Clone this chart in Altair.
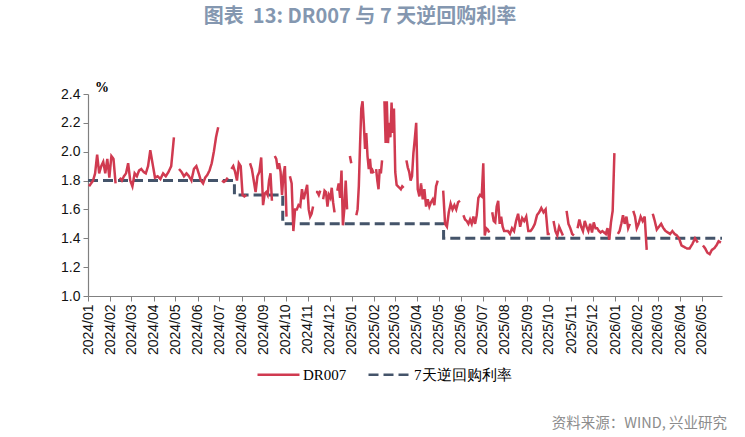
import calendar
import pandas as pd
import altair as alt

# ---------------- data ----------------
series_names = ["DR007", "7天逆回购利率"]

# DR007 (%), read month by month; None = gap in the source line
dr007_2024 = [
    [1.76, 1.78, 1.80, 1.85, 1.98, 1.85, 1.90, 1.93, 1.85, 1.95, 1.82],
    [1.97, 1.95, 1.78, None, 1.82, 1.80, 1.83, 1.85, 1.92, 1.80],
    [1.76, 1.85, 1.83, 1.87, 1.88, 1.86, 1.85, 1.90, 2.01, 1.92],
    [1.82, 1.83, 1.81, 1.85, 1.83, 1.86, 1.90, 2.10],
    [None, 1.88, 1.86, 1.83, 1.85, 1.83, 1.80, 1.88, 1.90],
    [1.85, 1.80, 1.78, 1.82, 1.84, 1.87, 1.92, 2.00, 2.10, 2.17],
    [None, 1.80, 1.79, 1.80, 1.82, None, 1.88, 1.90, 1.86, 1.80, 1.92, 1.90],
    [1.70, 1.69, 1.70, None, 1.92, 1.88, 1.80, 1.72, 1.83, 1.86, 1.96, 1.63],
    [1.71, 1.72, 1.70, 1.80, 1.85, 1.66, None, 1.97, 1.95, 1.88, 1.92, 1.86, 1.70, 1.84, 1.90],
    [1.55, None, 1.83, 1.78, 1.45, 1.60, 1.60, 1.63, 1.62, 1.74, 1.67, 1.72, 1.77],
    [1.60, 1.55, 1.57, 1.62, None, 1.72, 1.72, 1.70, 1.73, None, 1.67, 1.73, 1.72, 1.62, 1.70],
    [1.68, 1.75, 1.65, 1.58, None, 1.73, 1.78, 1.68, 1.87, 1.49, 1.60, 1.80, 1.60, None, 1.97, 1.92],
]
dr007_2025 = [
    [None, 1.69, None, 1.56, 1.60, 1.76, 2.05, 2.30, 2.35, 2.20, 2.02, 2.13, 1.97, 1.88, 1.95, 1.85, 1.87, 1.85],
    [None, 1.88, 1.80, 1.74, 1.88, 1.85, 1.94, None, 2.35, 2.06, 2.35, 2.06, 2.20, 2.10, 2.34, 2.13, 2.30],
    [1.86, 1.77, 1.76, 1.75, 1.74, 1.76, 1.75, None, 1.94, 1.89, 1.86, 1.80, 1.83, 1.99, 2.09, 2.20],
    [1.74, 1.69, 1.78, 1.67, 1.74, 1.62, 1.67, 1.62, 1.65, 1.67, 1.63, 1.76, 1.80],
    [None, None, 1.73, 1.50, 1.48, 1.58, 1.64, 1.60, 1.63, 1.60, 1.65, 1.66],
    [None, 1.56, 1.53, 1.52, 1.50, 1.53, 1.50, 1.55, 1.50, 1.56, 1.68, 1.70, 1.69],
    [1.92, 1.42, 1.47, 1.46, 1.44, None, 1.58, 1.52, 1.51, 1.62, 1.66, 1.50, 1.55, 1.48, 1.45],
    [1.45, 1.45, 1.43, 1.47, 1.45, 1.52, 1.57, 1.48, 1.54, 1.52, 1.55],
    [1.45, 1.45, 1.47, 1.50, 1.56, 1.58, 1.61, 1.58, 1.60, 1.43],
    [1.43, None, 1.52, 1.45, 1.42, 1.48, 1.45, 1.42, None, 1.59, 1.50, 1.47],
    [1.43, 1.42, None, 1.47, 1.53, 1.48, 1.45, 1.52, 1.48, 1.45, 1.50, 1.44],
    [1.51, 1.47, 1.47, 1.45, 1.44, 1.45, 1.44, 1.43, 1.47, 1.39, 1.51, 1.59, 1.99],
]
dr007_2026 = [
    [None, 1.43, 1.45, 1.50, 1.56, 1.50, 1.55, 1.47, 1.50, None, 1.59, 1.55, 1.47],
    [1.50, 1.55, 1.52, 1.55, 1.32, None, None, 1.57, 1.52, 1.46],
    [1.48, 1.50, 1.47, 1.45, 1.44, 1.43, 1.45, 1.43, 1.42, 1.40],
    [1.35, 1.34, 1.33, 1.33, 1.36, 1.40, 1.37, None],
    [1.35, 1.33, 1.30, 1.29, 1.32, 1.33, 1.35, 1.38, 1.37],
]

# 7-day reverse repo rate (%), step changes
policy_dates = ["2024-01-01", "2024-07-22", "2024-09-27", "2025-05-08", "2026-05-29"]
policy_rate = [1.8, 1.7, 1.5, 1.4, 1.4]

y_ticks = [1.0, 1.2, 1.4, 1.6, 1.8, 2.0, 2.2, 2.4]
domain_start = "2024-01-01"
domain_end = "2026-05-29"

title_text = "图表\u00a0\u00a013: DR007 与 7 天逆回购利率"
unit_text = "%"
source_text = "资料来源：WIND, 兴业研究"

# ---------------- table building ----------------
end_ts = pd.Timestamp(domain_end)
rows = []
seg = 0
for year, lists in ((2024, dr007_2024), (2025, dr007_2025), (2026, dr007_2026)):
    for mi, vals in enumerate(lists):
        start = pd.Timestamp(year, mi + 1, 1)
        ndays = calendar.monthrange(year, mi + 1)[1]
        span = min(ndays, (end_ts - start).days)
        n = len(vals)
        for i, v in enumerate(vals):
            if v is None:
                seg += 1
                continue
            d = start + pd.Timedelta(hours=24 * (i + 0.5) * span / n)
            rows.append({"date": d.strftime("%Y-%m-%dT%H:%M:%S"), "value": v,
                         "seg": seg, "series": series_names[0]})
dr_df = pd.DataFrame(rows)
pol_df = pd.DataFrame({"date": [d + "T00:00:00" for d in policy_dates],
                       "value": policy_rate, "series": series_names[1]})

RED = "#d03a50"
NAVY = "#44546a"
AXIS = "#808080"

x_enc = alt.X(
    "date:T",
    scale=alt.Scale(domain=[domain_start + "T00:00:00", domain_end + "T00:00:00"]),
    axis=alt.Axis(format="%Y/%m", tickCount=alt.TimeIntervalStep(interval="month", step=1),
                  labelAngle=270, labelFontSize=14, labelFont="Liberation Sans",
                  labelColor="#111", tickSize=5, tickColor=AXIS, domainColor=AXIS,
                  domainWidth=1.2, labelPadding=3, grid=False, title=None,
                  labelOverlap=False, labelFlush=False),
)
y_enc = alt.Y(
    "value:Q",
    scale=alt.Scale(domain=[1.0, 2.4], nice=False, zero=False),
    axis=alt.Axis(values=y_ticks, format=".1f", title=None, grid=False, tickSize=5,
                  tickColor=AXIS, domainColor=AXIS, domainWidth=1.2, labelPadding=3,
                  labelFontSize=14, labelFont="Liberation Sans", labelColor="#111"),
)
legend = alt.Legend(title=None, orient="none", legendX=168, legendY=258,
                    direction="horizontal", symbolType="stroke", symbolSize=1764,
                    symbolStrokeWidth=2.6, labelFont="Liberation Serif",
                    labelFontSize=15, labelColor="#000", labelOffset=2, columnPadding=16)
color_enc = alt.Color("series:N", scale=alt.Scale(domain=series_names, range=[RED, NAVY]),
                      legend=legend)
dash_enc = alt.StrokeDash("series:N", scale=alt.Scale(domain=series_names, range=[[1, 0], [10, 5]]),
                          legend=legend)

dr_line = alt.Chart(dr_df).mark_line(strokeWidth=2.5).encode(
    x=x_enc, y=y_enc, color=color_enc, strokeDash=dash_enc, detail="seg:N")

pol_line = alt.Chart(pol_df).mark_line(strokeWidth=3, interpolate="step-after", strokeCap="butt").encode(
    x=x_enc, y=y_enc, color=color_enc, strokeDash=dash_enc)

one = alt.Data(values=[{}])
title_mark = alt.Chart(one).mark_text(
    text=title_text, font="Noto Sans CJK SC", fontSize=20, fontWeight="bold",
    color="#8497b0", align="center", baseline="middle"
).encode(x=alt.value(272), y=alt.value(-77))
unit_mark = alt.Chart(one).mark_text(
    text=unit_text, font="Liberation Serif", fontSize=14, fontWeight="bold",
    color="#000", align="center", baseline="middle"
).encode(x=alt.value(14), y=alt.value(-6))
source_mark = alt.Chart(one).mark_text(
    text=source_text, font="Noto Sans CJK SC", fontSize=14.5,
    color="#8c8c8c", align="right", baseline="middle"
).encode(x=alt.value(639), y=alt.value(330))

chart = alt.layer(pol_line, dr_line, title_mark, unit_mark, source_mark).properties(
    width=634, height=202,
    autosize=alt.AutoSizeParams(type="none"),
    padding={"left": 88, "top": 94, "right": 23, "bottom": 141},
    background="white",
).configure_view(stroke=None)

chart.save("out.html", embed_options={"renderer": "svg", "actions": False})
